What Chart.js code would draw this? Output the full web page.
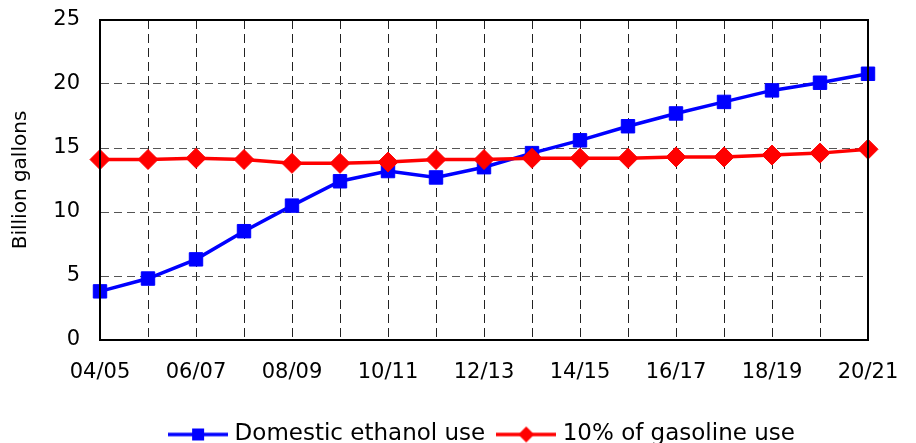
<!DOCTYPE html>
<html>
<head>
<meta charset="utf-8">
<script src="https://cdn.jsdelivr.net/npm/chart.js@4.4.1/dist/chart.umd.min.js"></script>
<style>
  html, body { margin: 0; padding: 0; background: #fff; }
  #wrap { width: 916px; height: 443px; }
</style>
</head>
<body>
<div id="wrap"><canvas id="myChart" width="916" height="443"></canvas></div>
<script>
// Crop years (x axis)
const years = ['04/05', '05/06', '06/07', '07/08', '08/09', '09/10', '10/11', '11/12', '12/13',
    '13/14', '14/15', '15/16', '16/17', '17/18', '18/19', '19/20', '20/21'];

// Billion gallons
const ethanolUse = [3.8, 4.8, 6.3, 8.5, 10.5, 12.4, 13.2, 12.7, 13.5, 14.6, 15.6, 16.7, 17.7, 18.6, 19.5, 20.1, 20.8];
const gasolineTenPct = [14.1, 14.1, 14.2, 14.1, 13.8, 13.8, 13.9, 14.1, 14.1, 14.2, 14.2, 14.2, 14.3, 14.3, 14.45, 14.6, 14.9];

const yTicks = [0, 5, 10, 15, 20, 25];

const fontFamily = '"DejaVu Sans", Verdana, sans-serif';

// little legend swatch: line with the marker on it
function legendSwatch(color, shape) {
    const c = document.createElement('canvas');
    c.width = 60;
    c.height = 18;
    const ctx = c.getContext('2d');
    ctx.strokeStyle = color;
    ctx.fillStyle = color;
    ctx.lineWidth = 3.5;
    ctx.beginPath();
    ctx.moveTo(0, 9);
    ctx.lineTo(60, 9);
    ctx.stroke();
    ctx.beginPath();
    if (shape === 'rect') {
        ctx.rect(24, 3, 12, 12);
    } else {
        ctx.moveTo(30, 1);
        ctx.lineTo(38, 9);
        ctx.lineTo(30, 17);
        ctx.lineTo(22, 9);
        ctx.closePath();
    }
    ctx.fill();
    return c;
}

// solid frame round the plot
const frame = {
    id: 'frame',
    afterDatasetsDraw(chart) {
        const a = chart.chartArea;
        const ctx = chart.ctx;
        ctx.save();
        ctx.strokeStyle = '#000';
        ctx.lineWidth = 2;
        ctx.strokeRect(a.left, a.top, a.right - a.left, a.bottom - a.top);
        ctx.restore();
    }
};

const ctx = document.getElementById('myChart').getContext('2d');
const myChart = new Chart(ctx, {
    type: 'line',
    data: {
        labels: years,
        datasets: [{
            label: 'Domestic ethanol use',
            data: ethanolUse,
            borderColor: '#0000ff',
            backgroundColor: '#0000ff',
            borderWidth: 3.5,
            pointStyle: 'rect',
            pointRadius: 9.5,
            pointBorderWidth: 1,
            tension: 0,
            order: 1
        }, {
            label: '10% of gasoline use',
            data: gasolineTenPct,
            borderColor: '#ff0000',
            backgroundColor: '#ff0000',
            borderWidth: 3.5,
            pointStyle: 'rectRot',
            pointRadius: 10,
            pointBorderWidth: 1,
            tension: 0,
            order: 0
        }]
    },
    options: {
        responsive: false,
        animation: false,
        layout: {
            padding: { left: 0, right: 48, top: 20, bottom: -13 }
        },
        plugins: {
            tooltip: { enabled: false },
            legend: {
                position: 'bottom',
                fullSize: false,
                labels: {
                    usePointStyle: true,
                    pointStyleWidth: 50,
                    color: '#000',
                    padding: 16,
                    font: { family: fontFamily, size: 23 },
                    generateLabels(chart) {
                        return chart.data.datasets.map((ds, i) => ({
                            text: ds.label,
                            datasetIndex: i,
                            fontColor: '#000',
                            pointStyle: legendSwatch(ds.borderColor, ds.pointStyle === 'rect' ? 'rect' : 'diamond'),
                            lineWidth: 0,
                            hidden: false
                        }));
                    }
                }
            }
        },
        scales: {
            x: {
                offset: false,
                grid: {
                    color: '#222',
                    lineWidth: 1,
                    drawTicks: false
                },
                border: { display: true, color: '#000', width: 2, dash: [9, 5] },
                ticks: {
                    autoSkip: false,
                    maxRotation: 0,
                    padding: 20,
                    color: '#000',
                    font: { family: fontFamily, size: 21 },
                    callback: function (value, index) {
                        return index % 2 === 0 ? this.getLabelForValue(value) : '';
                    }
                },
                afterFit(scale) {
                    scale.height = 67;
                    scale.paddingLeft = 0;
                    scale.paddingRight = 0;
                }
            },
            y: {
                min: 0,
                max: 25,
                afterBuildTicks(scale) {
                    scale.ticks = yTicks.map(v => ({ value: v }));
                },
                grid: {
                    color: '#555',
                    lineWidth: 1,
                    drawTicks: false
                },
                border: { display: true, color: '#000', width: 2, dash: [8, 5] },
                ticks: {
                    padding: 20,
                    color: '#000',
                    font: { family: fontFamily, size: 21 }
                },
                title: {
                    display: true,
                    text: 'Billion gallons',
                    color: '#000',
                    padding: { top: 9, bottom: 0 },
                    font: { family: fontFamily, size: 20 }
                },
                afterFit(scale) {
                    scale.width = 100;
                    scale.paddingTop = 0;
                    scale.paddingBottom = 0;
                }
            }
        }
    },
    plugins: [frame]
});
</script>
</body>
</html>
